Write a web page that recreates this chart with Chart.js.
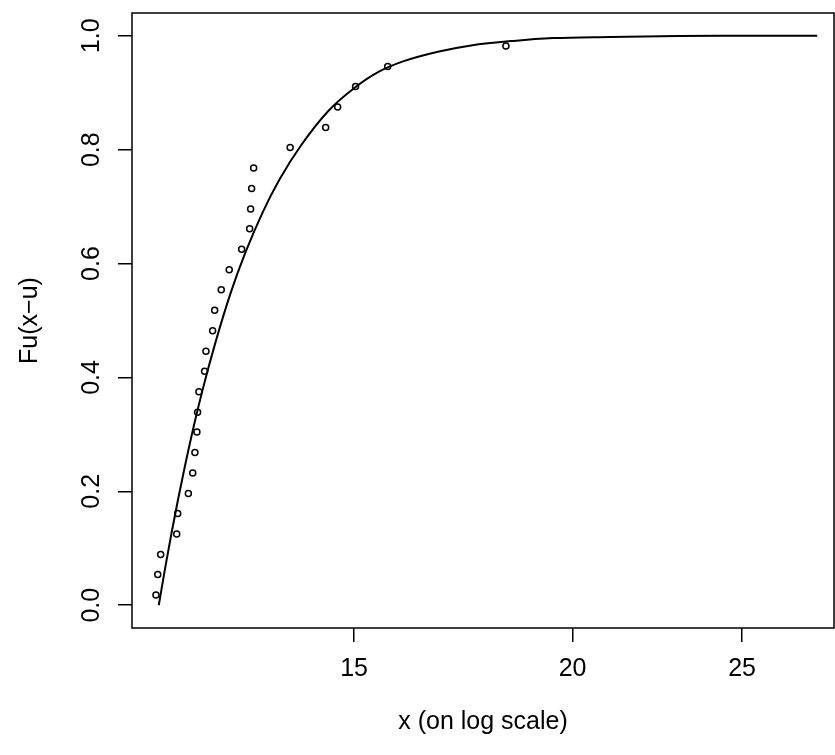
<!DOCTYPE html>
<html>
<head>
<meta charset="utf-8">
<script src="https://cdn.jsdelivr.net/npm/chart.js@4/dist/chart.umd.min.js"></script>
<style>
  html, body { margin: 0; padding: 0; background: #fff; }
  #wrap { width: 835px; height: 755px; }
</style>
</head>
<body>
<div id="wrap"><canvas id="gpdChart" width="835" height="755"></canvas></div>
<script>
// exceedances (x) and their empirical probabilities
const exceedX = [11.557, 11.584, 11.629, 11.877, 11.893, 12.06, 12.13, 12.165, 12.197, 12.208,
                 12.229, 12.321, 12.343, 12.452, 12.485, 12.594, 12.727, 12.937, 13.074, 13.091,
                 13.108, 13.143, 13.79, 14.45, 14.68, 15.03, 15.68, 18.32];
const exceedF = [0.018, 0.054, 0.089, 0.125, 0.161, 0.196, 0.232, 0.268, 0.304, 0.339,
                 0.375, 0.411, 0.446, 0.482, 0.518, 0.554, 0.589, 0.625, 0.661, 0.696,
                 0.732, 0.768, 0.804, 0.839, 0.875, 0.911, 0.946, 0.982];

// fitted curve
const curveX = [11.6, 11.7, 11.8, 11.9, 12.0, 12.15, 12.3, 12.5, 12.75, 13.0, 13.3, 13.6,
                14.0, 14.5, 15.0, 15.5, 16.0, 16.75, 17.5, 18.5, 19.5, 21, 23, 25, 27.6];
const curveF = [0, 0.067, 0.129, 0.187, 0.241, 0.316, 0.383, 0.462, 0.548, 0.619, 0.690, 0.748,
                0.809, 0.868, 0.908, 0.937, 0.955, 0.972, 0.983, 0.991, 0.996, 0.998, 0.9996, 0.9999, 1.0];

const xTicks = [15, 20, 25];
const yTicks = [0, 0.2, 0.4, 0.6, 0.8, 1.0];

const axisFont = { family: '"Liberation Sans", Arial, sans-serif', size: 25 };

const boxPlugin = {
    id: 'boxPlugin',
    afterDraw(chart) {
        const { ctx, chartArea: a } = chart;
        ctx.save();
        ctx.strokeStyle = '#000';
        ctx.lineWidth = 1.5;
        ctx.strokeRect(a.left, a.top, a.right - a.left, a.bottom - a.top);
        ctx.restore();
    }
};

const ctx = document.getElementById('gpdChart').getContext('2d');

new Chart(ctx, {
    type: 'scatter',
    data: {
        datasets: [{
            label: 'fit',
            data: curveX.map((x, i) => ({ x: x, y: curveF[i] })),
            showLine: true,
            borderColor: '#000',
            borderWidth: 2,
            pointRadius: 0,
            cubicInterpolationMode: 'monotone',
            fill: false
        }, {
            label: 'data',
            data: exceedX.map((x, i) => ({ x: x, y: exceedF[i] })),
            showLine: false,
            pointStyle: 'circle',
            pointRadius: 3,
            pointBorderWidth: 1.5,
            pointBorderColor: '#000',
            pointBackgroundColor: 'rgba(0,0,0,0)'
        }]
    },
    options: {
        responsive: false,
        animation: false,
        layout: { autoPadding: false, padding: { top: 13, right: 1, left: 0, bottom: 0 } },
        plugins: {
            legend: { display: false },
            tooltip: { enabled: false }
        },
        scales: {
            x: {
                type: 'logarithmic',
                min: 11.198,
                max: 28.217,
                afterBuildTicks: s => { s.ticks = xTicks.map(v => ({ value: v })); },
                afterFit: s => {
                    s.height = 127;
                    s.paddingLeft = 0;
                    s.paddingRight = 0;
                },
                border: { display: false },
                grid: {
                    drawOnChartArea: false,
                    drawTicks: true,
                    tickLength: 14,
                    color: '#000',
                    lineWidth: 1.5
                },
                ticks: {
                    autoSkip: false,
                    maxRotation: 0,
                    padding: 12,
                    color: '#000',
                    font: axisFont,
                    callback: v => String(v)
                },
                title: {
                    display: true,
                    text: 'x (on log scale)',
                    color: '#000',
                    font: axisFont,
                    padding: { top: 0, bottom: 18 }
                }
            },
            y: {
                type: 'linear',
                min: -0.04,
                max: 1.04,
                afterBuildTicks: s => { s.ticks = yTicks.map(v => ({ value: v })); },
                afterFit: s => {
                    s.width = 132;
                    s.paddingTop = 0;
                    s.paddingBottom = 0;
                },
                border: { display: false },
                grid: {
                    drawOnChartArea: false,
                    drawTicks: true,
                    tickLength: 14,
                    color: '#000',
                    lineWidth: 1.5
                },
                ticks: {
                    autoSkip: false,
                    minRotation: 90,
                    maxRotation: 90,
                    crossAlign: 'center',
                    padding: 9,
                    color: '#000',
                    font: axisFont,
                    callback: v => v.toFixed(1)
                },
                title: {
                    display: true,
                    text: 'Fu(x\u2212u)',
                    color: '#000',
                    font: axisFont,
                    padding: { top: 15, bottom: 0 }
                }
            }
        }
    },
    plugins: [boxPlugin]
});
</script>
</body>
</html>
